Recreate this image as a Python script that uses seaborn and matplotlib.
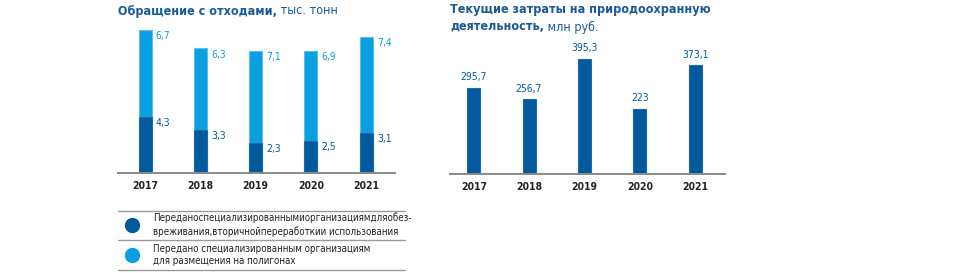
import matplotlib
matplotlib.use("Agg")
import matplotlib.pyplot as plt
import seaborn as sns
import pandas as pd
from matplotlib.lines import Line2D

# ---- data ----
years = ["2017", "2018", "2019", "2020", "2021"]
recycled = [4.3, 3.3, 2.3, 2.5, 3.1]      # Передано ... для обезвреживания, вторичной переработки и использования
landfill = [6.7, 6.3, 7.1, 6.9, 7.4]      # Передано ... для размещения на полигонах
costs = [295.7, 256.7, 395.3, 223, 373.1]  # Текущие затраты, млн руб.

title_left_bold = "Обращение с отходами,"
title_left_unit = " тыс. тонн"
title_right_bold_1 = "Текущие затраты на природоохранную"
title_right_bold_2 = "деятельность,"
title_right_unit = " млн руб."
legend_labels = [
    "Переданоспециализированнымиорганизациямдляобез-\nвреживания,вторичнойпереработкии использования",
    "Передано специализированным организациям\nдля размещения на полигонах",
]

DARK = "#005a9c"
LIGHT = "#0aa0e0"
LIGHT_EDGE = "#5cc0ec"
TITLE = "#1c5a96"
AXIS = "#8a8a8a"

sns.set_theme(style="white")
plt.rcParams["font.family"] = ["DejaVu Sans"]
plt.rcParams["font.stretch"] = "condensed"

W, H = 960, 273
fig = plt.figure(figsize=(W / 100, H / 100), dpi=100)


def px_axes(x0, x1, ytop, ybot):
    return fig.add_axes([x0 / W, 1 - ybot / H, (x1 - x0) / W, (ybot - ytop) / H])


def fmt(v):
    s = f"{v:g}"
    return s.replace(".", ",")


# ---- left chart ----
axl = px_axes(118, 395, 30, 173)
df = pd.DataFrame({"year": years, "recycled": recycled, "landfill": landfill})
df["total"] = df["recycled"] + df["landfill"]
sns.barplot(data=df, x="year", y="total", color=LIGHT, width=0.235, ax=axl,
            saturation=1, edgecolor=LIGHT_EDGE, linewidth=0.8)
sns.barplot(data=df, x="year", y="recycled", color=DARK, width=0.235, ax=axl,
            saturation=1, edgecolor="#1d6aaa", linewidth=0.8)
axl.set_xlim(-0.49, 4.52)
axl.set_ylim(0, 11)
for i, (r, l) in enumerate(zip(recycled, landfill)):
    axl.annotate(fmt(l), (i + 0.1175, r + l), xytext=(3, -1), textcoords="offset points",
                 ha="left", va="top", color=LIGHT, fontsize=7.5)
    axl.annotate(fmt(r), (i + 0.1175, r), xytext=(3, -1), textcoords="offset points",
                 ha="left", va="top", color=DARK, fontsize=7.5)

# ---- right chart ----
axr = px_axes(450, 725, 58, 174)
dfc = pd.DataFrame({"year": years, "cost": costs})
sns.barplot(data=dfc, x="year", y="cost", color=DARK, width=0.235, ax=axr,
            saturation=1, edgecolor="#1d6aaa", linewidth=0.8)
axr.set_xlim(-0.43, 4.54)
axr.set_ylim(0, 398)
for i, c in enumerate(costs):
    axr.annotate(fmt(c), (i, c), xytext=(0, 4), textcoords="offset points",
                 ha="center", va="bottom", color=DARK, fontsize=7.5)

for ax in (axl, axr):
    for s in ("top", "right", "left"):
        ax.spines[s].set_visible(False)
    ax.spines["bottom"].set_color(AXIS)
    ax.spines["bottom"].set_linewidth(1.4)
    ax.set_yticks([])
    ax.set_xlabel("")
    ax.set_ylabel("")
    ax.tick_params(axis="x", length=0, pad=6, labelsize=7.5, labelcolor="#222222")
    for t in ax.get_xticklabels():
        t.set_fontweight("bold")

# ---- titles ----
TS = 9
t1 = fig.text(118 / W, 1 - 11 / H, title_left_bold, fontsize=TS, fontweight="bold",
              color=TITLE, va="center", ha="left")
fig.canvas.draw()
bb = t1.get_window_extent()
fig.text(bb.x1 / W, 1 - 11 / H, title_left_unit, fontsize=TS, color=TITLE, va="center", ha="left")

fig.text(450 / W, 1 - 9 / H, title_right_bold_1, fontsize=TS, fontweight="bold",
         color=TITLE, va="center", ha="left")
t3 = fig.text(450 / W, 1 - 27 / H, title_right_bold_2, fontsize=TS, fontweight="bold",
              color=TITLE, va="center", ha="left")
fig.canvas.draw()
bb3 = t3.get_window_extent()
fig.text(bb3.x1 / W, 1 - 27 / H, title_right_unit, fontsize=TS, color=TITLE, va="center", ha="left")

# ---- legend ----
for y in (211, 240, 270):
    fig.add_artist(Line2D([118 / W, 405 / W], [1 - y / H, 1 - y / H], color="#9a9a9a", lw=1.0))
for y, col, lab in ((225, DARK, legend_labels[0]), (255, LIGHT, legend_labels[1])):
    fig.add_artist(Line2D([132 / W], [1 - y / H], marker="o", markersize=10,
                          markerfacecolor=col, markeredgecolor=col, linestyle="none"))
    fig.text(153 / W, 1 - y / H, lab, fontsize=7, color="#222222", va="center", ha="left",
             linespacing=1.35)

fig.savefig("out.png", dpi=100)
